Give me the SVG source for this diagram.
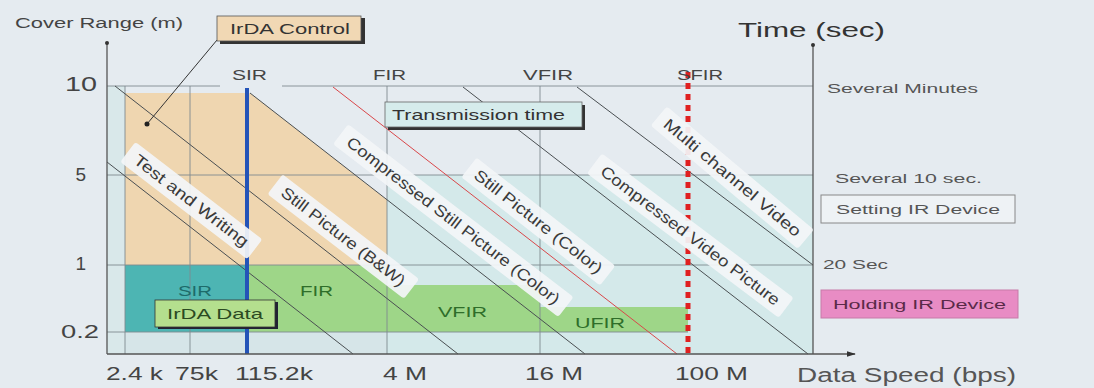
<svg xmlns="http://www.w3.org/2000/svg" width="1094" height="388" viewBox="0 0 1094 388">
<defs>
<style>
text{font-family:"Liberation Sans",Arial,sans-serif;fill:#444}
.ax{stroke:#555;stroke-width:1.3;fill:none}
.grid{stroke:#7f8a90;stroke-width:0.9;fill:none}
.diag{stroke:#4a4f52;stroke-width:1;fill:none}
.lbl{fill:#f3f5f7;fill-opacity:0.93}
.lt{font-size:16px;fill:#3a3a3a}
.tick{font-size:19px;fill:#444}
.rt{font-size:12.5px;fill:#555}
.top{font-size:15px;fill:#444}
</style>
<marker id="arr" viewBox="0 0 10 10" refX="9" refY="5" markerWidth="7" markerHeight="7" orient="auto"><path d="M0,2 L10,5 L0,8 Z" fill="#333"/></marker>
</defs>
<rect width="1094" height="388" fill="#e5ebf0"/>

<g id="regions">
<rect x="107" y="86" width="18" height="268" fill="#d9e8ea"/>
<rect x="387" y="175" width="426" height="179" fill="#d4e9ea"/>
<rect x="125" y="332" width="262" height="22" fill="#d6e5e8"/>
<polygon points="125,93 250,93 387,200 387,265 125,265" fill="#efd6b0"/>
<rect x="125" y="265" width="122" height="67" fill="#4db5b3"/>
<rect x="247" y="265" width="140" height="67" fill="#9ed688"/>
<rect x="387" y="285" width="153" height="47" fill="#9ed688"/>
<rect x="540" y="307" width="148" height="25" fill="#9ed688"/>
</g>

<g id="grid">
<line class="grid" x1="107" y1="86" x2="220" y2="86"/>
<line class="grid" x1="282" y1="86" x2="813" y2="86"/>
<line class="grid" x1="107" y1="175" x2="813" y2="175"/>
<line class="grid" x1="107" y1="265" x2="813" y2="265"/>
<line class="grid" x1="107" y1="332" x2="688" y2="332"/>
<line class="grid" x1="125" y1="86" x2="125" y2="354"/>
<line class="grid" x1="190" y1="86" x2="190" y2="354"/>
<line class="grid" x1="387" y1="86" x2="387" y2="354"/>
<line class="grid" x1="540" y1="86" x2="540" y2="354"/>
</g>

<g id="connectors">
<line class="diag" x1="107" y1="162" x2="353" y2="354"/>
<line class="diag" x1="115" y1="86" x2="458" y2="354"/>
<line class="diag" x1="250" y1="93" x2="585" y2="354"/>
<line x1="333" y1="87" x2="677" y2="354" stroke="#d9474a" stroke-width="1"/>
<line class="diag" x1="463" y1="87" x2="808" y2="354"/>
<line class="diag" x1="577" y1="87" x2="813" y2="265"/>
<line x1="217" y1="40" x2="147" y2="124" stroke="#333" stroke-width="1"/>
<circle cx="147" cy="124" r="2.5" fill="#222"/>
</g>

<g id="speed-lines">
<line x1="247" y1="88" x2="247" y2="354" stroke="#2454b8" stroke-width="4"/>
<line x1="688" y1="72" x2="688" y2="354" stroke="#e02020" stroke-width="5" stroke-dasharray="6,5"/>
</g>

<g id="axes">
<line class="ax" x1="107" y1="44" x2="107" y2="354"/>
<circle cx="107" cy="43" r="2" fill="#333"/>
<line class="ax" x1="107" y1="354" x2="855" y2="354" marker-end="url(#arr)"/>
<line class="ax" x1="813" y1="46" x2="813" y2="354"/>
<circle cx="813" cy="45" r="2" fill="#333"/>
</g>

<g id="label-test-writing" transform="translate(191,201) rotate(37.5)">
<rect class="lbl" x="-80" y="-13" width="160" height="25" rx="3"/>
<text class="lt" x="0" y="5" text-anchor="middle" textLength="140" lengthAdjust="spacingAndGlyphs">Test and Writing</text>
</g>
<g id="label-still-bw" transform="translate(343,237) rotate(37.5)">
<rect class="lbl" x="-86" y="-13" width="172" height="25" rx="3"/>
<text class="lt" x="0" y="5" text-anchor="middle" textLength="152" lengthAdjust="spacingAndGlyphs">Still Picture (B&amp;W)</text>
</g>
<g id="label-comp-still-color" transform="translate(453,221) rotate(37.5)">
<rect class="lbl" x="-142" y="-13" width="284" height="25" rx="3"/>
<text class="lt" x="0" y="5" text-anchor="middle" textLength="264" lengthAdjust="spacingAndGlyphs">Compressed Still Picture (Color)</text>
</g>
<g id="label-still-color" transform="translate(538,222) rotate(38)">
<rect class="lbl" x="-88" y="-13" width="176" height="25" rx="3"/>
<text class="lt" x="0" y="5" text-anchor="middle" textLength="158" lengthAdjust="spacingAndGlyphs">Still Picture (Color)</text>
</g>
<g id="label-comp-video" transform="translate(690,236) rotate(37)">
<rect class="lbl" x="-120" y="-13" width="240" height="25" rx="3"/>
<text class="lt" x="0" y="5" text-anchor="middle" textLength="220" lengthAdjust="spacingAndGlyphs">Compressed Video Picture</text>
</g>
<g id="label-multi-video" transform="translate(732,178) rotate(40)">
<rect class="lbl" x="-96" y="-13" width="192" height="25" rx="3"/>
<text class="lt" x="0" y="5" text-anchor="middle" textLength="174" lengthAdjust="spacingAndGlyphs">Multi channel Video</text>
</g>

<g id="band-labels">
<text x="178" y="296" font-size="15" textLength="34" lengthAdjust="spacingAndGlyphs" style="fill:#1d6b6a">SIR</text>
<text x="300" y="296" font-size="15" textLength="33" lengthAdjust="spacingAndGlyphs" style="fill:#2f6e2a">FIR</text>
<text x="438" y="317" font-size="15" textLength="49" lengthAdjust="spacingAndGlyphs" style="fill:#2f6e2a">VFIR</text>
<text x="575" y="328" font-size="15" textLength="50" lengthAdjust="spacingAndGlyphs" style="fill:#2f6e2a">UFIR</text>
</g>

<g id="irda-control">
<rect x="220" y="18" width="145" height="26" fill="#333"/>
<rect x="217" y="16" width="144" height="25" fill="#f1d8b4" stroke="#555" stroke-width="0.8"/>
<text x="230" y="34" font-size="15" textLength="120" lengthAdjust="spacingAndGlyphs" style="fill:#333">IrDA Control</text>
</g>
<g id="irda-data">
<rect x="158" y="302" width="120" height="27" fill="#223"/>
<rect x="155" y="300" width="120" height="27" fill="#b4df8e" stroke="#333" stroke-width="0.8"/>
<text x="167" y="319" font-size="15" textLength="96" lengthAdjust="spacingAndGlyphs" style="fill:#2b4a22">IrDA Data</text>
</g>
<g id="transmission-time">
<rect x="388" y="105" width="197" height="25" fill="#333"/>
<rect x="385" y="102" width="197" height="25" fill="#d6ecec" stroke="#666" stroke-width="0.8"/>
<text x="392" y="120" font-size="15" textLength="173" lengthAdjust="spacingAndGlyphs" style="fill:#333">Transmission time</text>
</g>
<g id="setting-ir">
<rect x="821" y="195" width="194" height="28" fill="#eef2f5" stroke="#888" stroke-width="1"/>
<text x="836" y="214" class="rt" textLength="164" lengthAdjust="spacingAndGlyphs">Setting IR Device</text>
</g>
<g id="holding-ir">
<rect x="821" y="290" width="197" height="28" fill="#e88cc4" stroke="#c77aa8" stroke-width="1"/>
<text x="833" y="309" class="rt" textLength="173" lengthAdjust="spacingAndGlyphs" style="fill:#5a2a48">Holding IR Device</text>
</g>

<g id="texts">
<text x="15" y="28" font-size="14" textLength="168" lengthAdjust="spacingAndGlyphs" style="fill:#444">Cover Range (m)</text>
<text x="738" y="37" font-size="21" textLength="147" lengthAdjust="spacingAndGlyphs" style="fill:#333">Time (sec)</text>
<text class="top" x="232" y="80" textLength="35" lengthAdjust="spacingAndGlyphs">SIR</text>
<text class="top" x="373" y="80" textLength="33" lengthAdjust="spacingAndGlyphs">FIR</text>
<text class="top" x="523" y="80" textLength="50" lengthAdjust="spacingAndGlyphs">VFIR</text>
<text class="top" x="677" y="80" textLength="46" lengthAdjust="spacingAndGlyphs">SFIR</text>
<text x="65" y="91" font-size="20" textLength="32" lengthAdjust="spacingAndGlyphs">10</text>
<text x="86" y="181" font-size="19" text-anchor="end">5</text>
<text x="86" y="270" font-size="19" text-anchor="end">1</text>
<text x="61" y="338" font-size="19" textLength="38" lengthAdjust="spacingAndGlyphs">0.2</text>
<text class="tick" x="106" y="380" textLength="57" lengthAdjust="spacingAndGlyphs">2.4 k</text>
<text class="tick" x="175" y="380" textLength="43" lengthAdjust="spacingAndGlyphs">75k</text>
<text class="tick" x="235" y="380" textLength="78" lengthAdjust="spacingAndGlyphs">115.2k</text>
<text class="tick" x="383" y="380" textLength="44" lengthAdjust="spacingAndGlyphs">4 M</text>
<text class="tick" x="525" y="380" textLength="58" lengthAdjust="spacingAndGlyphs">16 M</text>
<text class="tick" x="675" y="380" textLength="73" lengthAdjust="spacingAndGlyphs">100 M</text>
<text x="797" y="382" font-size="20" textLength="219" lengthAdjust="spacingAndGlyphs" style="fill:#555">Data Speed (bps)</text>
<text class="rt" x="827" y="93" textLength="151" lengthAdjust="spacingAndGlyphs">Several Minutes</text>
<text class="rt" x="835" y="183" textLength="147" lengthAdjust="spacingAndGlyphs">Several 10 sec.</text>
<text class="rt" x="823" y="269" textLength="65" lengthAdjust="spacingAndGlyphs">20 Sec</text>
</g>
</svg>
